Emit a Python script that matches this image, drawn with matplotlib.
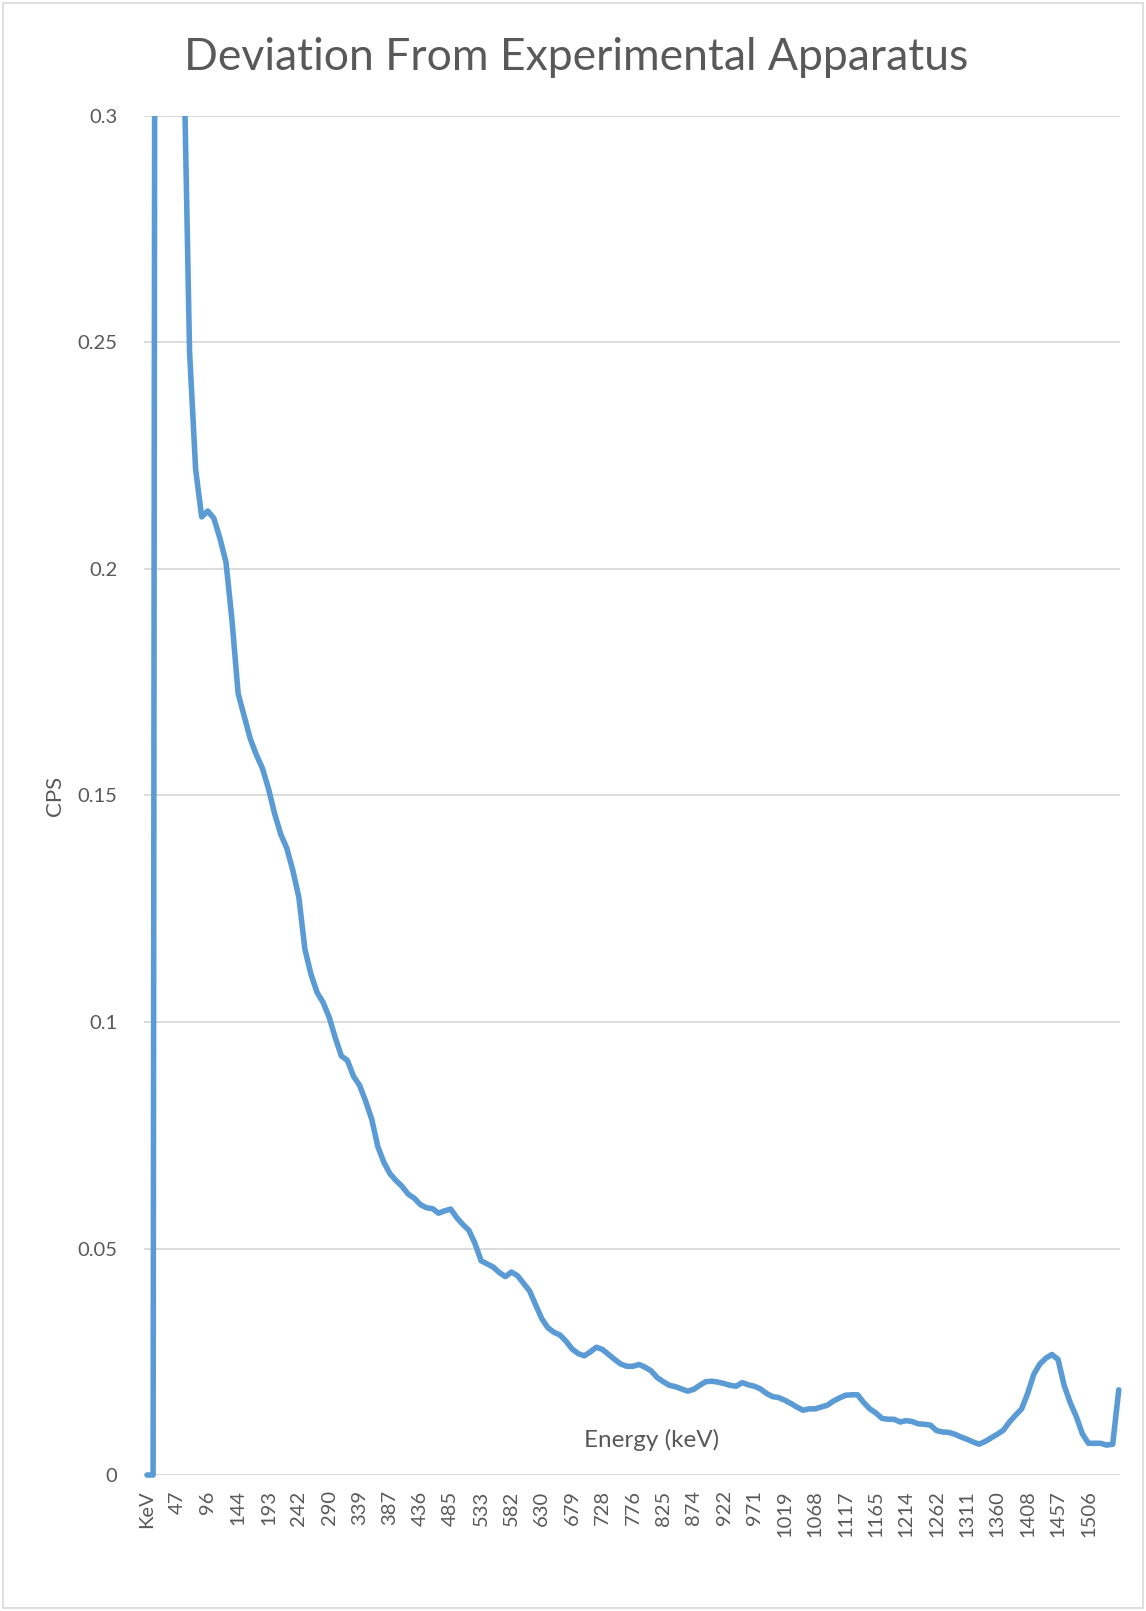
import numpy as np
import matplotlib
matplotlib.use("Agg")
import matplotlib.pyplot as plt
from matplotlib.patches import Rectangle

# Counts per second for each energy channel (channel 0 is the header row "KeV")
cps = [
    0.0, 0.0, 1.2, 2.4, 1.9, 0.85, 0.318, 0.248, 0.222, 0.2115,
    0.2128, 0.2112, 0.2068, 0.2015, 0.1885, 0.1725, 0.1675, 0.1625, 0.1590, 0.1560,
    0.1515, 0.1460, 0.1415, 0.1384, 0.1335, 0.1275, 0.1160, 0.1105, 0.1065, 0.1043,
    0.1010, 0.0965, 0.0925, 0.0915, 0.0880, 0.0860, 0.0825, 0.0785, 0.0725, 0.0690,
    0.0665, 0.0650, 0.0637, 0.0620, 0.0611, 0.0597, 0.0590, 0.0588, 0.0578, 0.0583,
    0.0587, 0.0568, 0.0553, 0.0540, 0.0511, 0.0473, 0.0466, 0.0459, 0.0447, 0.0438,
    0.0448, 0.0440, 0.0423, 0.0406, 0.0375, 0.0345, 0.0325, 0.0315, 0.0309, 0.0295,
    0.0278, 0.0268, 0.0263, 0.0272, 0.0282, 0.0277, 0.0266, 0.0255, 0.0245, 0.0240,
    0.0240, 0.0244, 0.0238, 0.0230, 0.0215, 0.0206, 0.0198, 0.0195, 0.0190, 0.0185,
    0.0189, 0.0198, 0.0206, 0.0207, 0.0205, 0.0202, 0.0198, 0.0196, 0.0204, 0.0199,
    0.0196, 0.0190, 0.0180, 0.0173, 0.0171, 0.0165, 0.0158, 0.0150, 0.0143, 0.0146,
    0.0146, 0.0150, 0.0154, 0.0163, 0.0170, 0.0176, 0.0177, 0.0177, 0.0160, 0.0146,
    0.0137, 0.0125, 0.0123, 0.0123, 0.0117, 0.0120, 0.0118, 0.0113, 0.0112, 0.0110,
    0.0098, 0.0095, 0.0094, 0.0090, 0.0084, 0.0079, 0.0073, 0.0068, 0.0074, 0.0082,
    0.0090, 0.0099, 0.0117, 0.0132, 0.0146, 0.0180, 0.0222, 0.0245, 0.0258, 0.0266,
    0.0255, 0.0198, 0.0160, 0.0129, 0.0091, 0.0070, 0.0070, 0.0070, 0.0066, 0.0068,
    0.0188,
]

# Category labels shown on the energy axis (every fifth channel)
energy_labels = [
    "KeV", "47", "96", "144", "193", "242", "290", "339", "387", "436",
    "485", "533", "582", "630", "679", "728", "776", "825", "874", "922",
    "971", "1019", "1068", "1117", "1165", "1214", "1262", "1311", "1360", "1408",
    "1457", "1506",
]
label_step = 5

y_ticks = [0, 0.05, 0.1, 0.15, 0.2, 0.25, 0.3]
y_tick_labels = ["0", "0.05", "0.1", "0.15", "0.2", "0.25", "0.3"]

TEXT = "#595959"
GRID = "#d9d9d9"
LINE = "#5b9bd5"

plt.rcParams["font.family"] = ["Lato", "DejaVu Sans"]

W, H = 1146, 1611
fig = plt.figure(figsize=(W / 100, H / 100), dpi=100)

# chart-area border
fig.add_artist(Rectangle((3 / W, 3 / H), (W - 6) / W, (H - 6) / H,
                         transform=fig.transFigure, fill=False,
                         edgecolor=GRID, linewidth=1.2))

left_px, right_px, top_px, bottom_px = 144, 1120, 116, 1475
ax = fig.add_axes([left_px / W, 1 - bottom_px / H,
                   (right_px - left_px) / W, (bottom_px - top_px) / H])

x = np.arange(len(cps))
line, = ax.plot(x, cps, color=LINE, linewidth=4.0,
                solid_joinstyle="round", solid_capstyle="round", zorder=3)
# clip at the top of the plot area only, so the zero-level stroke stays whole
clip = Rectangle((-0.02, -0.03), 1.04, 1.03, transform=ax.transAxes)
line.set_clip_path(clip)

ax.set_xlim(-0.5, 160.2)
ax.set_ylim(0, 0.3)

ax.set_yticks(y_ticks)
ax.set_yticklabels(y_tick_labels)
ax.yaxis.grid(True, color=GRID, linewidth=1.3, zorder=0)
ax.set_axisbelow(True)

ax.set_xticks(np.arange(len(energy_labels)) * label_step)
ax.set_xticklabels(energy_labels, rotation=90)

for s in ax.spines.values():
    s.set_visible(False)

ax.tick_params(axis="y", length=0, pad=19, labelsize=14.5, labelcolor=TEXT)
ax.tick_params(axis="x", length=0, pad=11, labelsize=14.5, labelcolor=TEXT)
for lbl in ax.get_xticklabels():
    lbl.set_verticalalignment("top")

ax.set_ylabel("CPS", fontsize=16, color=TEXT)
ax.yaxis.set_label_coords(-0.081, 0.5)

ax.set_xlabel("Energy (keV)", fontsize=17.5, color=TEXT)
ax.xaxis.set_label_coords(0.52, 0.026)
ax.xaxis.label.set_verticalalignment("center")

fig.text(576 / W, 1 - 58 / H, "Deviation From Experimental Apparatus",
         ha="center", va="center", fontsize=32, color=TEXT)

fig.savefig("out.png", dpi=100, facecolor="white")
